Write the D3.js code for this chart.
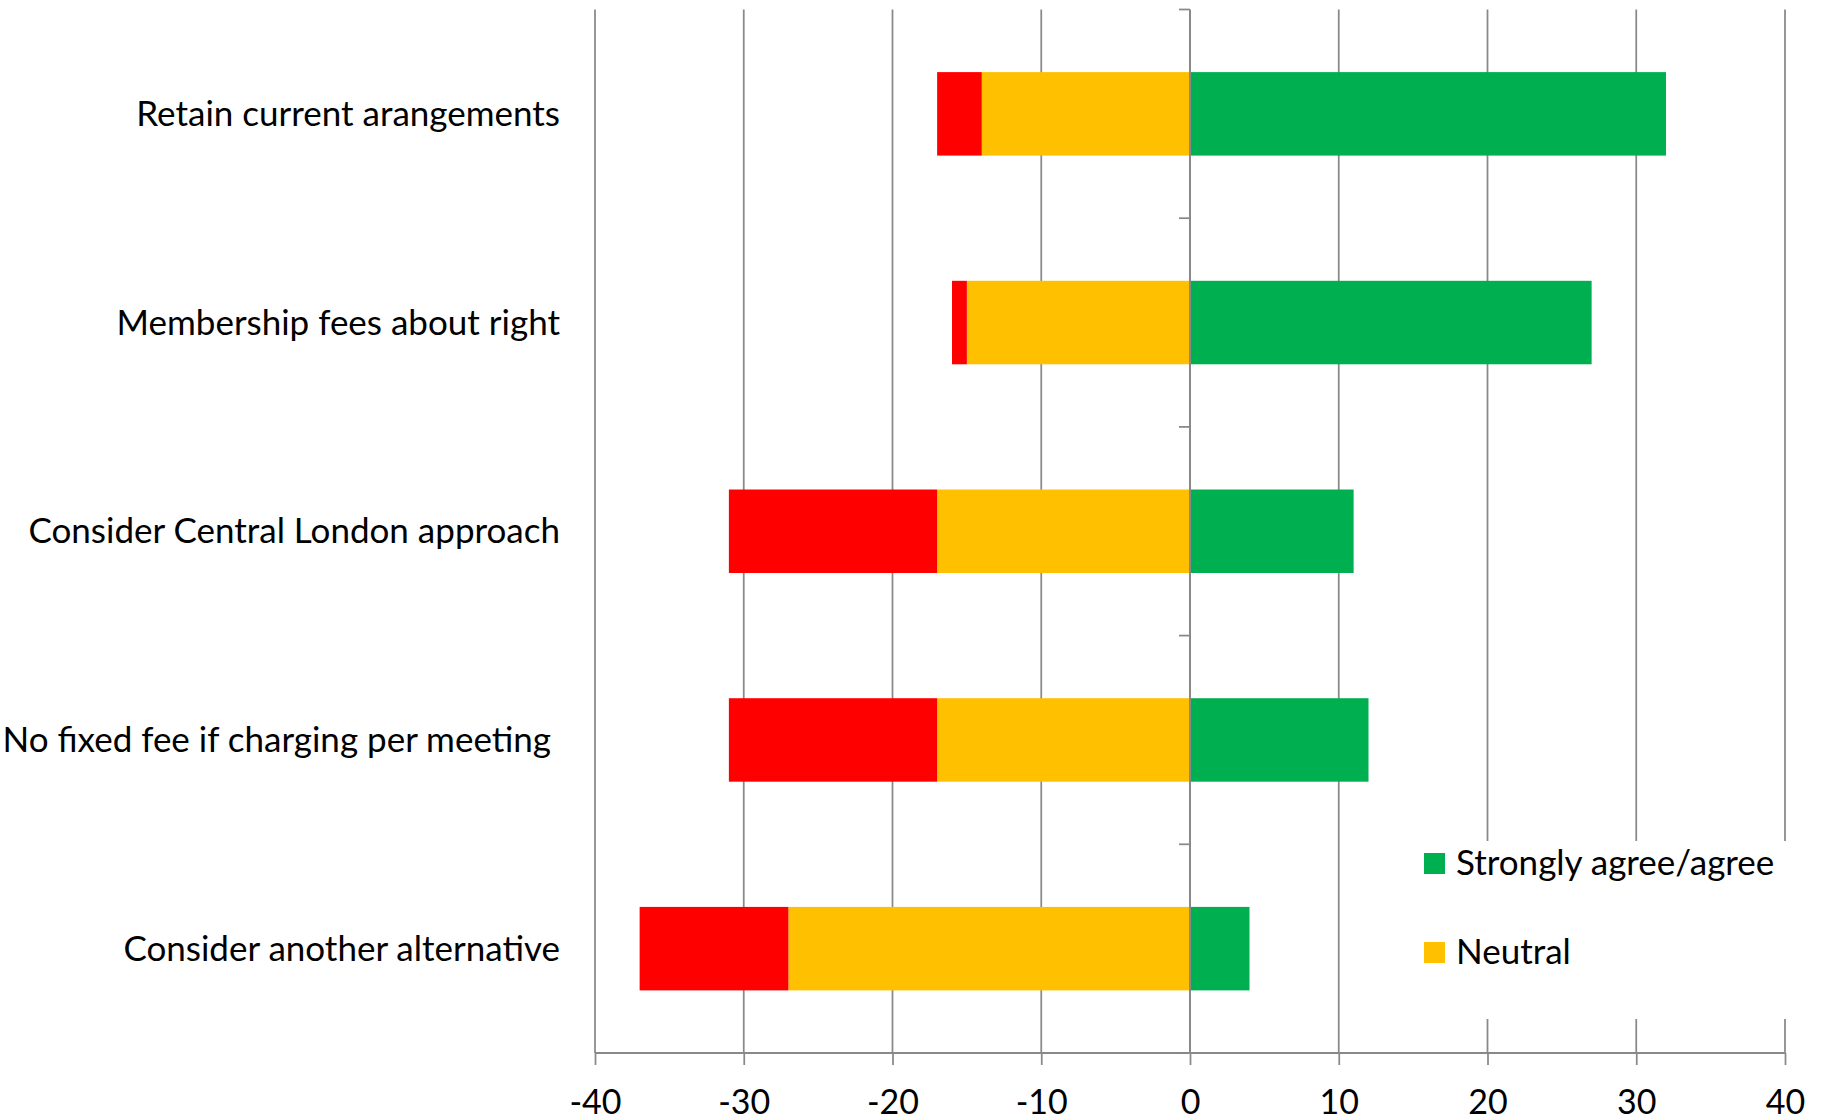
<!DOCTYPE html>
<html>
<head>
<meta charset="utf-8">
<script src="https://cdn.jsdelivr.net/npm/d3@7"></script>
<style>
  html, body { margin: 0; padding: 0; background: #fff; }
  svg { display: block; }
  text { font-family: Lato, "Open Sans", sans-serif; fill: #000; }
</style>
</head>
<body>
<svg id="chart" width="1826" height="1120"></svg>
<script>
const categories = [
  "Retain current arangements",
  "Membership fees about right",
  "Consider Central London approach",
  "No fixed fee if charging per meeting ",
  "Consider another alternative"
];
const agreeValues = [32, 27, 11, 12, 4];
const neutralValues = [14, 15, 17, 17, 27];
const disagreeValues = [3, 1, 14, 14, 10];
const xTicks = [-40, -30, -20, -10, 0, 10, 20, 30, 40];
const legendLabels = ["Strongly agree/agree", "Neutral"];

const colors = { agree: "#00B050", neutral: "#FFC000", disagree: "#FF0000" };
const gridColor = "#898989";

const rows = categories.map((c, i) => ({
  category: c,
  agree: agreeValues[i],
  neutral: -neutralValues[i],
  disagree: -disagreeValues[i]
}));

const svg = d3.select("#chart");
const plotTop = 9.5, plotBottom = 1053, plotLeft = 595, plotRight = 1785;

const x = d3.scaleLinear().domain([-40, 40]).range([plotLeft, plotRight]);
const y = d3.scaleBand().domain(categories).range([plotTop, plotBottom])
  .paddingInner(0.6).paddingOuter(0.3);

// gridlines
svg.append("g").selectAll("line").data(xTicks.filter(d => d !== 0)).join("line")
  .attr("x1", d => x(d)).attr("x2", d => x(d))
  .attr("y1", plotTop).attr("y2", plotBottom)
  .attr("stroke", gridColor).attr("stroke-width", 1.75);

// stacked bars
const stack = d3.stack().keys(["agree", "neutral", "disagree"]).offset(d3.stackOffsetDiverging);
const series = stack(rows);
svg.append("g").selectAll("g").data(series).join("g")
  .attr("fill", s => colors[s.key])
  .selectAll("rect").data(s => s).join("rect")
  .attr("x", d => x(Math.min(d[0], d[1])))
  .attr("width", d => Math.abs(x(d[1]) - x(d[0])))
  .attr("y", d => y(d.data.category))
  .attr("height", y.bandwidth());

// x axis
const xAxis = d3.axisBottom(x).tickValues(xTicks).tickSize(12).tickPadding(25).tickFormat(d => String(d));
const gx = svg.append("g").attr("transform", `translate(0,${plotBottom})`).call(xAxis);
gx.select(".domain").attr("stroke", gridColor).attr("stroke-width", 2).attr("d", `M${plotLeft},0H${plotRight}`);
gx.selectAll(".tick line").attr("stroke", gridColor).attr("stroke-width", 1.75);
gx.selectAll(".tick text")
  .style("font-family", "Lato, sans-serif").style("font-size", "34px").attr("fill", "#000")
  .attr("dy", "0.71em");

// y axis at zero
const x0 = x(0);
const gy = svg.append("g");
gy.append("line").attr("x1", x0).attr("x2", x0).attr("y1", plotTop).attr("y2", plotBottom)
  .attr("stroke", gridColor).attr("stroke-width", 2);
const boundaries = d3.range(categories.length + 1).map(i => plotTop + i * y.step());
gy.selectAll("line.tk").data(boundaries).join("line").attr("class", "tk")
  .attr("x1", x0 - 11).attr("x2", x0).attr("y1", d => d).attr("y2", d => d)
  .attr("stroke", gridColor).attr("stroke-width", 1.75);

// category labels
svg.append("g").selectAll("text").data(categories).join("text")
  .attr("x", 560).attr("y", d => y(d) + y.bandwidth() / 2 + 12)
  .attr("text-anchor", "end")
  .style("white-space", "pre")
  .style("font-size", "35px")
  .text(d => d);

// legend
const lg = svg.append("g");
lg.append("rect").attr("x", 1405).attr("y", 841).attr("width", 395).attr("height", 178).attr("fill", "#fff");
const legendKeys = ["agree", "neutral"];
const legendY = [853, 942];
legendLabels.forEach((lab, i) => {
  lg.append("rect").attr("x", 1424).attr("y", legendY[i]).attr("width", 21).attr("height", 21)
    .attr("fill", colors[legendKeys[i]]);
  lg.append("text").attr("x", 1456).attr("y", legendY[i] + 22).style("font-size", "35px").text(lab);
});
</script>
</body>
</html>
